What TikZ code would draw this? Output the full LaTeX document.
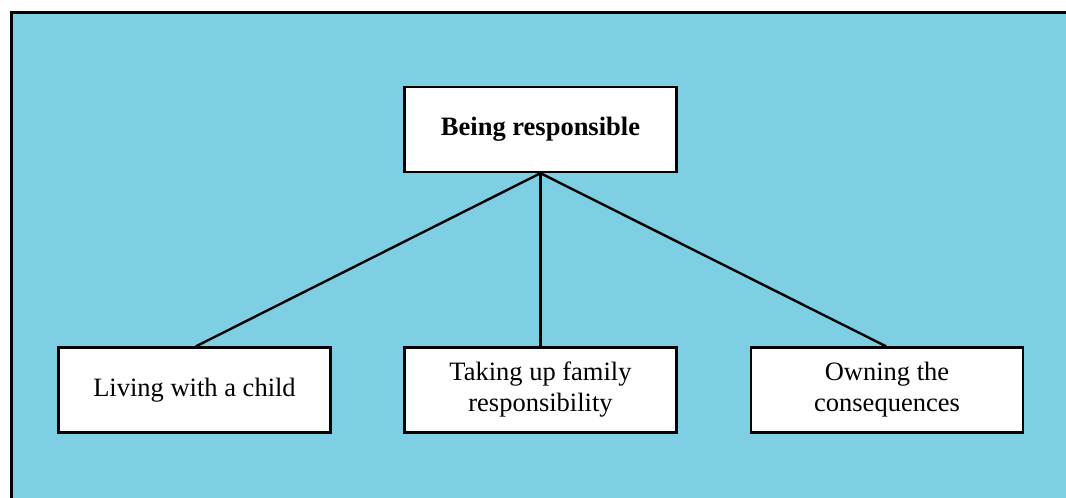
\documentclass[tikz,border=0pt]{standalone}
\usepackage{fontspec}
\setmainfont{Liberation Serif}
\definecolor{skyfill}{HTML}{7ECFE3}
\begin{document}
\begin{tikzpicture}[x=1pt,y=-1pt,
  box/.style={draw=black, fill=white, line width=2.4pt, rectangle, inner sep=0pt,
    minimum width=272pt, minimum height=85pt, align=center,
    font=\fontsize{26.5}{31}\selectfont},
  link/.style={draw=black, line width=2.4pt}]
  \useasboundingbox (0,0) rectangle (1066,498);
  % panel with a frame on its top and left sides
  \fill[skyfill] (11,12) rectangle (1066,498);
  \draw[black, line width=3pt] (11.5,498) -- (11.5,12.5) -- (1066,12.5);
  % nodes
  \node[box, font=\fontsize{26.5}{31}\selectfont\bfseries] (top) at (540.5,129.5) {Being responsible};
  \node[box] (left) at (194.5,390) {Living with a child};
  \node[box] (mid) at (540.5,390) {Taking up family\\responsibility};
  \node[box] (right) at (887,390) {Owning the\\consequences};
  % connectors
  \draw[link] (top.south) -- ([xshift=1.5pt]left.north);
  \draw[link] (top.south) -- (mid.north);
  \draw[link] (top.south) -- ([xshift=-1pt]right.north);
  % redraw boxes above the connector ends
  \node[box, font=\fontsize{26.5}{31}\selectfont\bfseries] at (top) {Being responsible};
  \node[box] at (left) {Living with a child};
  \node[box] at (mid) {Taking up family\\responsibility};
  \node[box] at (right) {Owning the\\consequences};
\end{tikzpicture}
\end{document}
